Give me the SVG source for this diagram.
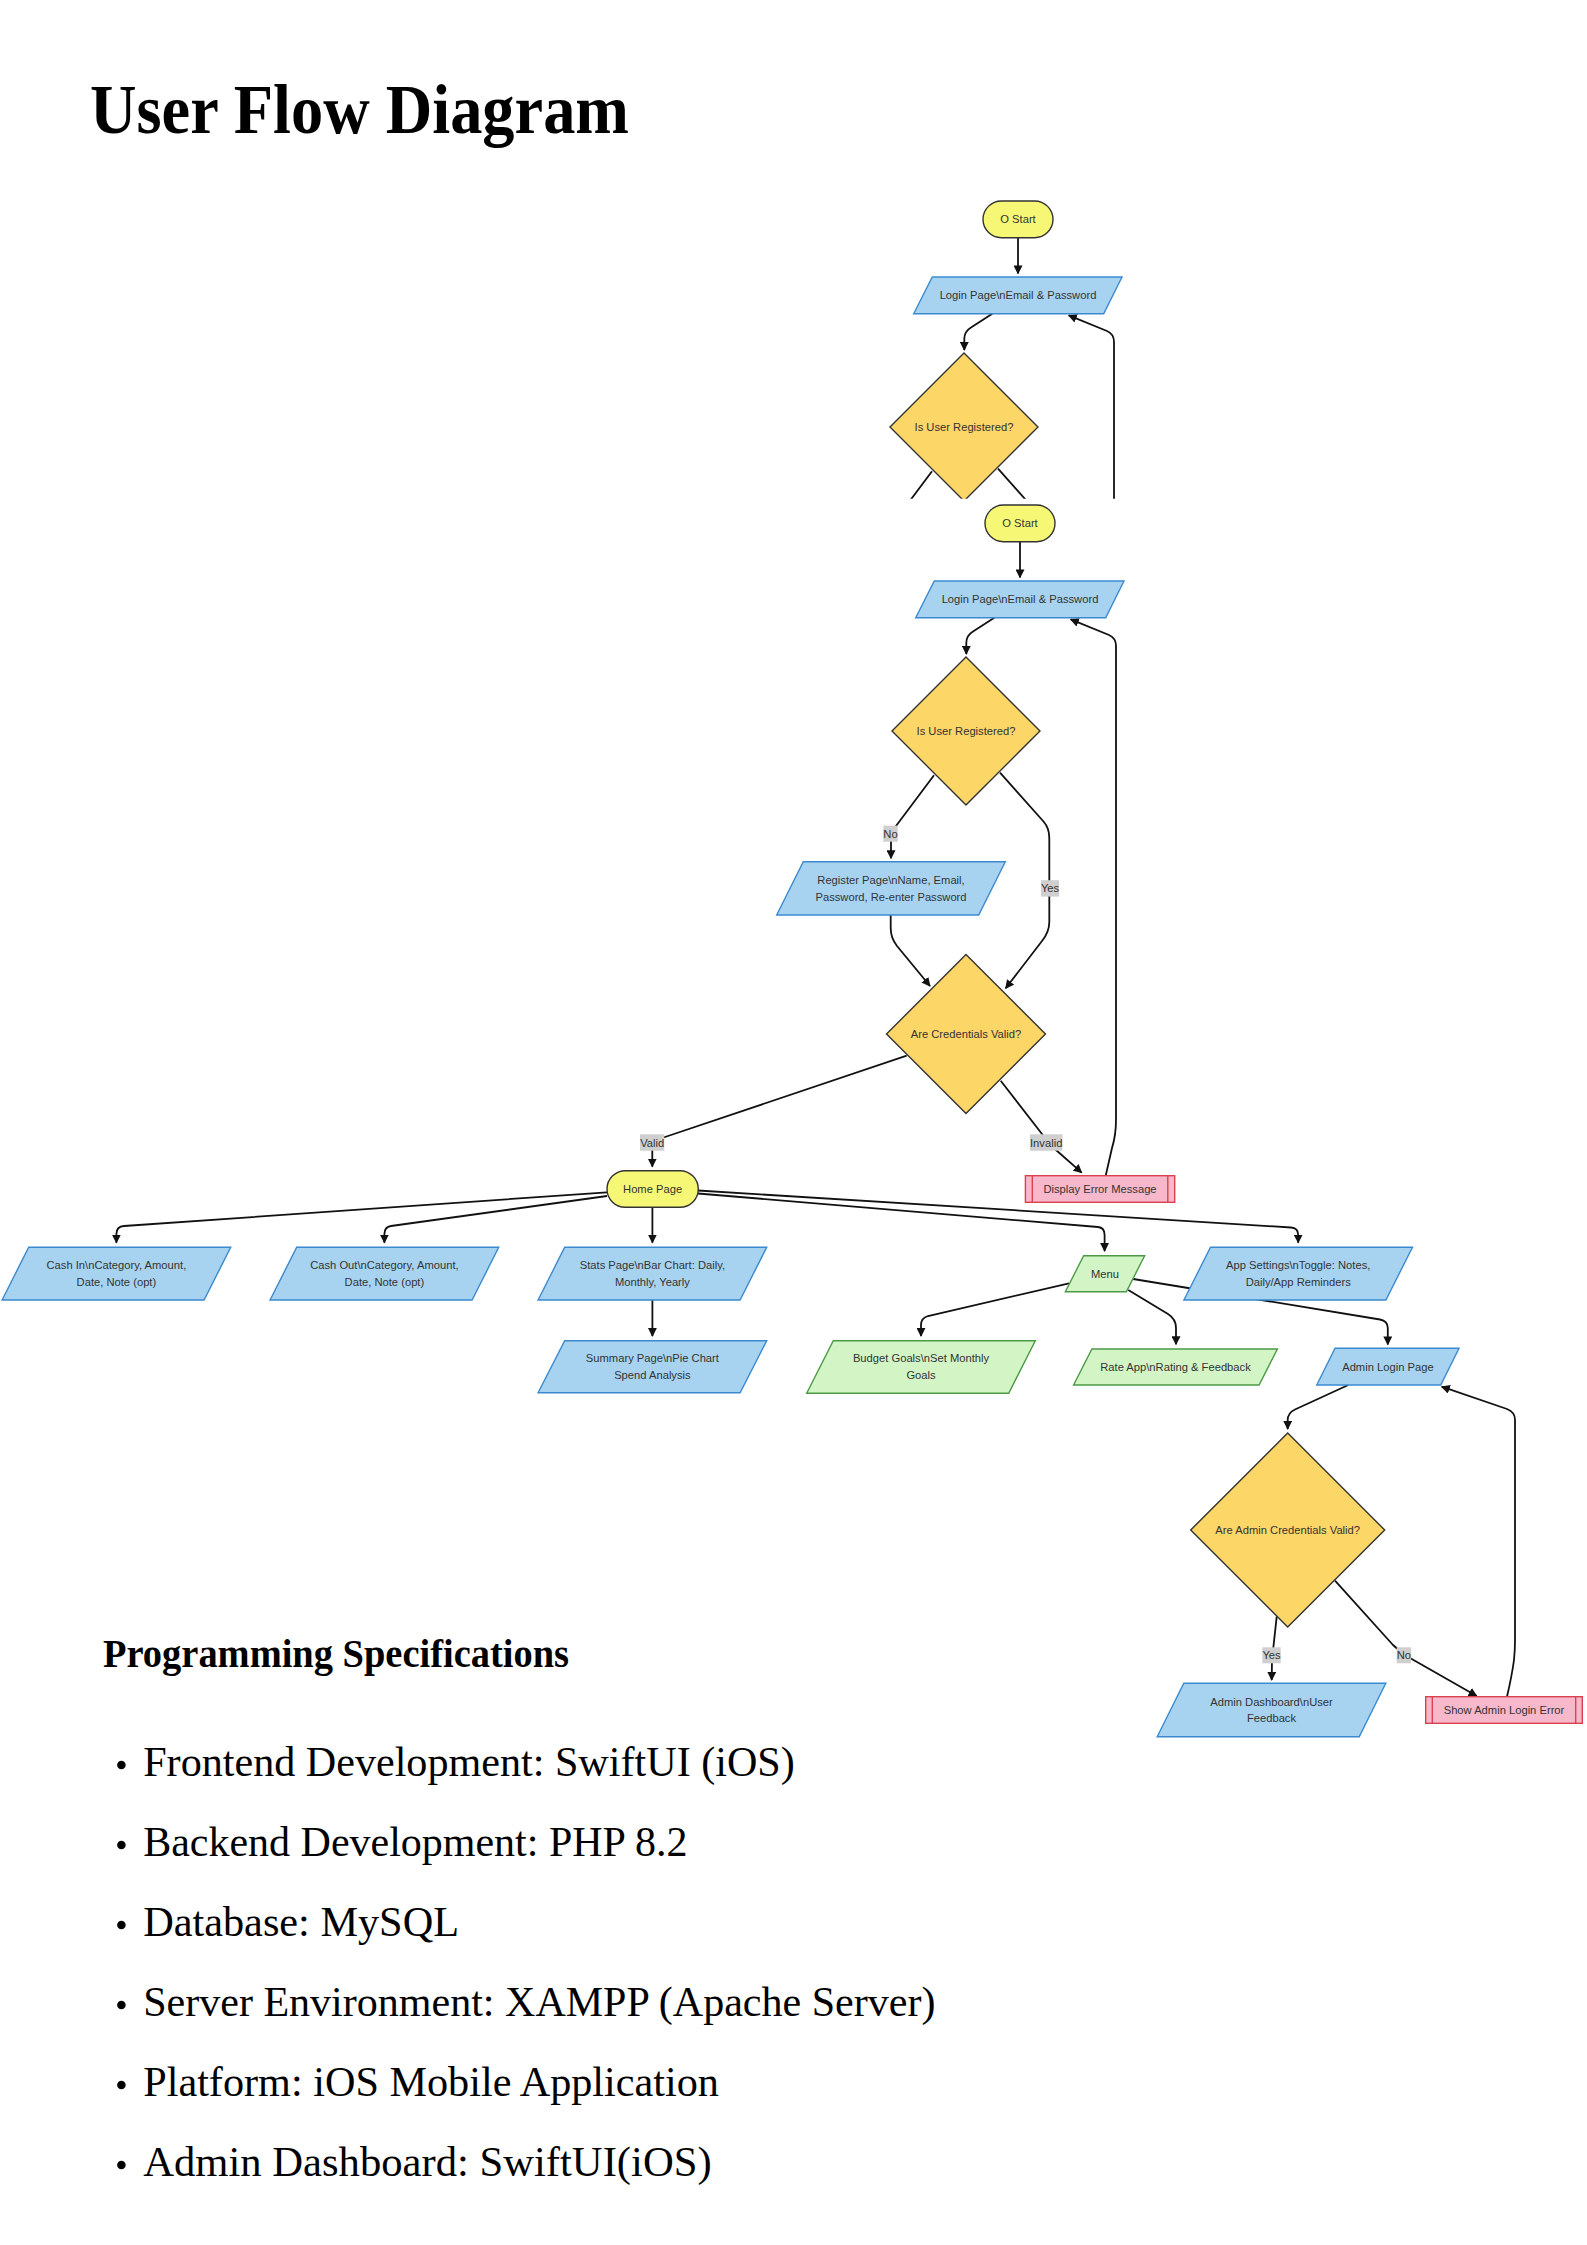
<svg xmlns="http://www.w3.org/2000/svg" width="1587" height="2245" viewBox="0 0 1587 2245">
<style>
.t{font-family:"Liberation Sans",Arial,sans-serif;font-size:11.2px;fill:#333;text-anchor:middle}
.edge{fill:none;stroke:#111;stroke-width:1.8}
.arr{marker-end:url(#arrow)}
.blue{fill:#a7d3f1;stroke:#3b8ad0;stroke-width:1.4}
.green{fill:#d3f5c5;stroke:#4b9a45;stroke-width:1.4}
.yellow{fill:#f7f776;stroke:#333;stroke-width:1.4}
.dia{fill:#fdd668;stroke:#333;stroke-width:1.4}
.err{fill:#f8b8cb;stroke:#d9434f;stroke-width:1.4}
.errl{fill:none;stroke:#d9434f;stroke-width:1.4}
.lbl{fill:#cfcfcf}
.serif{font-family:"Liberation Serif","Times New Roman",serif;fill:#000}
</style>
<defs>
<marker id="arrow" viewBox="0 0 10 10" refX="9" refY="5" markerWidth="9" markerHeight="9" markerUnits="userSpaceOnUse" orient="auto"><path d="M0,0 L10,5 L0,10 z" fill="#111"/></marker>
<clipPath id="topClip"><rect x="0" y="0" width="1587" height="498.7"/></clipPath>
</defs>
<rect x="0" y="0" width="1587" height="2245" fill="#fff"/>

<text id="title" class="serif" x="90" y="133" font-size="70" font-weight="bold" textLength="539" lengthAdjust="spacingAndGlyphs">User Flow Diagram</text>

<!-- clipped duplicate at top -->
<g id="topCopy" clip-path="url(#topClip)">
<g transform="translate(-2,-304)">
<g class="connectors">
<path class="edge arr" d="M1020,541.7 L1020,577.5"/>
<path class="edge arr" d="M994.3,617.7 L973,631.5 Q966.3,635.5 966.3,643 L966.3,654"/>
<path class="edge" d="M934,775.3 L896,826 Q891,832 891,840 L891,858.3"/>
<path class="edge" d="M1000,772.7 L1043.5,821.5 Q1049.3,828 1049.3,838 L1049.3,922"/>
<path class="edge" d="M1116,1120 L1116,646 Q1116,638 1109,635 L1070.7,619.3" marker-end="url(#arrow)"/>
</g>
<g id="copy-start"><rect class="yellow" x="985" y="505" width="70" height="36.7" rx="18.35"/><text class="t" x="1020" y="527.35">O Start</text></g>
<g id="copy-login"><polygon class="blue" points="934.3,581 1124,581 1105.7,617.7 915.7,617.7"/><text class="t" x="1020" y="603.35">Login Page\nEmail &amp; Password</text></g>
<g id="copy-registered"><polygon class="dia" points="966,657 1040,731 966,805 892,731"/><text class="t" x="966" y="735">Is User Registered?</text></g>
</g>
</g>

<!-- main flowchart -->
<g id="connectors">
<path class="edge arr" d="M1020,541.7 L1020,577.5"/>
<path class="edge arr" d="M994.3,617.7 L973,631.5 Q966.3,635.5 966.3,643 L966.3,654"/>
<path class="edge arr" d="M934,775.3 L896,826 Q891,832 891,840 L891,858.3"/>
<path class="edge arr" d="M1000,772.7 L1043.5,821.5 Q1049.3,828 1049.3,838 L1049.3,922 Q1049.3,932 1042,941 L1005.7,988.3"/>
<path class="edge arr" d="M890.7,915 L890.7,928 Q890.7,938 897,946 L930,986"/>
<path class="edge arr" d="M906.7,1055.7 L668,1136 Q652.3,1141 652.3,1150 L652.3,1166.7"/>
<path class="edge arr" d="M1000.7,1080.7 L1042,1134 Q1048,1142 1056,1150 L1081.7,1172.7"/>
<path class="edge arr" d="M1105.7,1175.7 L1112,1148 Q1116,1135 1116,1120 L1116,646 Q1116,638 1109,635 L1070.7,619.3"/>
<path class="edge arr" d="M607,1192.3 L124,1226 Q116.4,1226.5 116.4,1234 L116.4,1242.7"/>
<path class="edge arr" d="M607,1196 L391,1226 Q384.4,1227 384.4,1234 L384.4,1242.7"/>
<path class="edge arr" d="M652.4,1207.3 L652.4,1242.7"/>
<path class="edge arr" d="M698,1193.5 L1098,1227 Q1104.6,1227.6 1104.6,1235 L1104.6,1251"/>
<path class="edge arr" d="M698,1190.5 L1291,1227.5 Q1298.2,1228 1298.2,1235 L1298.2,1242.7"/>
<path class="edge arr" d="M652.4,1300 L652.4,1336"/>
<path class="edge arr" d="M1069,1283.3 L928,1316 Q921,1318 921,1325 L921,1336"/>
<path class="edge arr" d="M1128.3,1290 L1168,1314 Q1176,1319 1176,1328 L1176,1344.3"/>
<path class="edge arr" d="M1133.2,1279 L1380,1319.5 Q1387.8,1321 1387.8,1328 L1387.8,1344.5"/>
<path class="edge arr" d="M1348.3,1385 L1295,1409.5 Q1287.7,1413 1287.7,1420 L1287.7,1429"/>
<path class="edge arr" d="M1276.7,1616.7 L1272,1660 L1271.7,1680"/>
<path class="edge arr" d="M1335,1580.7 L1393,1645 Q1400,1652 1410,1658 L1476.7,1696"/>
<path class="edge arr" d="M1507,1696.7 Q1512,1675 1514,1660 Q1515,1650 1515,1640 L1515,1420 Q1515,1412 1507,1409 L1441.7,1386.7"/>
<g id="edge-labels">
<rect class="lbl" x="883.3" y="825.7" width="14.4" height="16"/><text class="t" x="890.5" y="837.7">No</text>
<rect class="lbl" x="1041" y="880.2" width="18" height="16.4"/><text class="t" x="1050" y="892.3">Yes</text>
<rect class="lbl" x="640" y="1134.3" width="24.3" height="16.4"/><text class="t" x="652.2" y="1146.5">Valid</text>
<rect class="lbl" x="1030" y="1134.3" width="32.4" height="16.4"/><text class="t" x="1046.2" y="1146.5">Invalid</text>
<rect class="lbl" x="1262.3" y="1647.3" width="18.4" height="16"/><text class="t" x="1271.5" y="1659.3">Yes</text>
<rect class="lbl" x="1396.7" y="1647.3" width="14.4" height="16"/><text class="t" x="1403.9" y="1659.3">No</text>
</g>
</g>

<g id="start"><rect class="yellow" x="985" y="505" width="70" height="36.7" rx="18.35"/><text class="t" x="1020" y="527.35">O Start</text></g>
<g id="login"><polygon class="blue" points="934.3,581 1124,581 1105.7,617.7 915.7,617.7"/><text class="t" x="1020" y="603.35">Login Page\nEmail &amp; Password</text></g>
<g id="registered"><polygon class="dia" points="966,657 1040,731 966,805 892,731"/><text class="t" x="966" y="735">Is User Registered?</text></g>
<g id="register"><polygon class="blue" points="803.3,861.7 1005.3,861.7 978.7,915 776.7,915"/><text class="t" x="891" y="884">Register Page\nName, Email,</text><text class="t" x="891" y="900.7">Password, Re-enter Password</text></g>
<g id="credvalid"><polygon class="dia" points="966,954.5 1045.5,1034 966,1113.5 886.5,1034"/><text class="t" x="966" y="1038">Are Credentials Valid?</text></g>
<g id="error"><rect class="err" x="1025.4" y="1175.7" width="149.3" height="26.6"/><line class="errl" x1="1032.3" y1="1175.7" x2="1032.3" y2="1202.3"/><line class="errl" x1="1167.8" y1="1175.7" x2="1167.8" y2="1202.3"/><text class="t" x="1100" y="1193">Display Error Message</text></g>
<g id="home"><rect class="yellow" x="607" y="1170.7" width="91.3" height="36.6" rx="18.3"/><text class="t" x="652.6" y="1193">Home Page</text></g>
<g id="cashin"><polygon class="blue" points="28.7,1247.3 230.7,1247.3 204.1,1300 2.1,1300"/><text class="t" x="116.4" y="1269.3">Cash In\nCategory, Amount,</text><text class="t" x="116.4" y="1286">Date, Note (opt)</text></g>
<g id="cashout"><polygon class="blue" points="296.7,1247.3 498.7,1247.3 472.1,1300 270.1,1300"/><text class="t" x="384.4" y="1269.3">Cash Out\nCategory, Amount,</text><text class="t" x="384.4" y="1286">Date, Note (opt)</text></g>
<g id="stats"><polygon class="blue" points="564.7,1247.3 766.7,1247.3 740.1,1300 538.1,1300"/><text class="t" x="652.4" y="1269.3">Stats Page\nBar Chart: Daily,</text><text class="t" x="652.4" y="1286">Monthly, Yearly</text></g>
<g id="summary"><polygon class="blue" points="564.7,1340.7 766.7,1340.7 740.1,1392.7 538.1,1392.7"/><text class="t" x="652.4" y="1362.35">Summary Page\nPie Chart</text><text class="t" x="652.4" y="1379.05">Spend Analysis</text></g>
<g id="menu"><polygon class="green" points="1083.65,1255.7 1144.65,1255.7 1126.35,1291.7 1065.35,1291.7"/><text class="t" x="1105" y="1277.7">Menu</text></g>
<g id="settings"><polygon class="blue" points="1210.5,1247.3 1412.5,1247.3 1385.9,1300 1183.9,1300"/><text class="t" x="1298.2" y="1269.3">App Settings\nToggle: Notes,</text><text class="t" x="1298.2" y="1286">Daily/App Reminders</text></g>
<g id="budget"><polygon class="green" points="833.3,1340.7 1035.3,1340.7 1008.7,1393.3 806.7,1393.3"/><text class="t" x="921" y="1362.3">Budget Goals\nSet Monthly</text><text class="t" x="921" y="1379">Goals</text></g>
<g id="rate"><polygon class="green" points="1091.9,1349 1277.4,1349 1259.1,1385 1073.6,1385"/><text class="t" x="1175.5" y="1371">Rate App\nRating &amp; Feedback</text></g>
<g id="adminlogin"><polygon class="blue" points="1335.05,1348.3 1459.05,1348.3 1440.75,1385 1316.75,1385"/><text class="t" x="1387.9" y="1370.65">Admin Login Page</text></g>
<g id="admincred"><polygon class="dia" points="1287.7,1433 1384.7,1530 1287.7,1627 1190.7,1530"/><text class="t" x="1287.7" y="1534">Are Admin Credentials Valid?</text></g>
<g id="admindash"><polygon class="blue" points="1183.8,1683.3 1385.8,1683.3 1359.2,1736.7 1157.2,1736.7"/><text class="t" x="1271.5" y="1705.7">Admin Dashboard\nUser</text><text class="t" x="1271.5" y="1722.3">Feedback</text></g>
<g id="adminerror"><rect class="err" x="1425.7" y="1696.7" width="156.6" height="26.6"/><line class="errl" x1="1432.3" y1="1696.7" x2="1432.3" y2="1723.3"/><line class="errl" x1="1575.7" y1="1696.7" x2="1575.7" y2="1723.3"/><text class="t" x="1504" y="1714">Show Admin Login Error</text></g>

<!-- specifications -->
<g id="specs">
<text class="serif" x="103" y="1666.5" font-size="40.5" font-weight="bold" textLength="466" lengthAdjust="spacingAndGlyphs">Programming Specifications</text>
<circle cx="121.4" cy="1765" r="4.3" fill="#000"/><text class="serif" x="143.2" y="1776" font-size="42" textLength="651.6" lengthAdjust="spacingAndGlyphs">Frontend Development: SwiftUI (iOS)</text>
<circle cx="121.4" cy="1845" r="4.3" fill="#000"/><text class="serif" x="143.2" y="1856" font-size="42" textLength="544.2" lengthAdjust="spacingAndGlyphs">Backend Development: PHP 8.2</text>
<circle cx="121.4" cy="1925" r="4.3" fill="#000"/><text class="serif" x="143.2" y="1936" font-size="42" textLength="315.8" lengthAdjust="spacingAndGlyphs">Database: MySQL</text>
<circle cx="121.4" cy="2005" r="4.3" fill="#000"/><text class="serif" x="143.2" y="2016" font-size="42" textLength="792.2" lengthAdjust="spacingAndGlyphs">Server Environment: XAMPP (Apache Server)</text>
<circle cx="121.4" cy="2085" r="4.3" fill="#000"/><text class="serif" x="143.2" y="2096" font-size="42" textLength="575.8" lengthAdjust="spacingAndGlyphs">Platform: iOS Mobile Application</text>
<circle cx="121.4" cy="2165" r="4.3" fill="#000"/><text class="serif" x="143.2" y="2176" font-size="42" textLength="568.4" lengthAdjust="spacingAndGlyphs">Admin Dashboard: SwiftUI(iOS)</text>
</g>
</svg>
